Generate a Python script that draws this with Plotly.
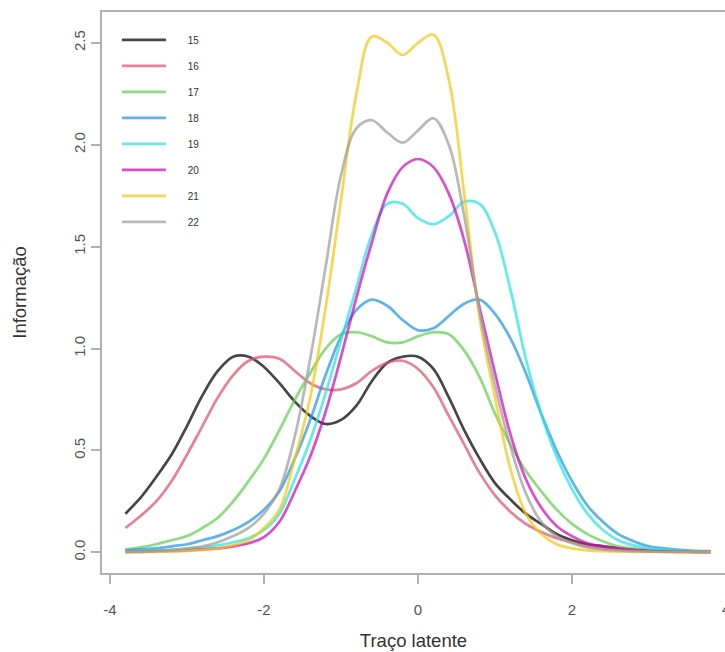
import plotly.graph_objects as go

theta = [-3.8, -3.6, -3.4, -3.2, -3.0, -2.8, -2.6, -2.4, -2.2, -2.0,
         -1.8, -1.6, -1.4, -1.2, -1.0, -0.8, -0.6, -0.4, -0.2, 0.0,
         0.2, 0.4, 0.6, 0.8, 1.0, 1.2, 1.4, 1.6, 1.8, 2.0,
         2.2, 2.4, 2.6, 2.8, 3.0, 3.2, 3.4, 3.6, 3.8]

item15 = [0.19, 0.27, 0.37, 0.48, 0.62, 0.77, 0.89, 0.96, 0.96, 0.91,
          0.83, 0.74, 0.67, 0.63, 0.65, 0.72, 0.84, 0.93, 0.96, 0.96,
          0.90, 0.76, 0.60, 0.46, 0.34, 0.26, 0.19, 0.14, 0.09, 0.06,
          0.04, 0.03, 0.02, 0.012, 0.008, 0.006, 0.004, 0.003, 0.003]
item16 = [0.12, 0.18, 0.25, 0.35, 0.48, 0.62, 0.76, 0.87, 0.94, 0.96,
          0.95, 0.89, 0.83, 0.80, 0.80, 0.83, 0.89, 0.93, 0.94, 0.90,
          0.81, 0.67, 0.53, 0.39, 0.28, 0.20, 0.14, 0.10, 0.07, 0.05,
          0.03, 0.02, 0.015, 0.01, 0.007, 0.005, 0.004, 0.003, 0.003]
item17 = [0.015, 0.025, 0.04, 0.06, 0.08, 0.12, 0.17, 0.25, 0.35, 0.46,
          0.60, 0.75, 0.88, 1.00, 1.07, 1.08, 1.06, 1.03, 1.03, 1.06,
          1.08, 1.07, 0.99, 0.86, 0.68, 0.53, 0.40, 0.30, 0.21, 0.14,
          0.09, 0.055, 0.03, 0.02, 0.012, 0.008, 0.005, 0.004, 0.003]
item18 = [0.01, 0.015, 0.02, 0.03, 0.04, 0.06, 0.08, 0.11, 0.15, 0.21,
          0.30, 0.46, 0.65, 0.87, 1.06, 1.19, 1.24, 1.21, 1.14, 1.09,
          1.10, 1.16, 1.22, 1.24, 1.17, 1.05, 0.88, 0.68, 0.50, 0.35,
          0.23, 0.15, 0.09, 0.055, 0.03, 0.02, 0.012, 0.008, 0.006]
item19 = [0.003, 0.005, 0.008, 0.012, 0.018, 0.025, 0.035, 0.05, 0.07, 0.11,
          0.19, 0.36, 0.55, 0.78, 1.04, 1.30, 1.56, 1.71, 1.71, 1.64,
          1.61, 1.65, 1.72, 1.71, 1.57, 1.29, 0.95, 0.68, 0.47, 0.31,
          0.19, 0.11, 0.06, 0.035, 0.02, 0.012, 0.008, 0.005, 0.004]
item20 = [0.002, 0.003, 0.005, 0.007, 0.01, 0.015, 0.02, 0.03, 0.045, 0.075,
          0.15, 0.30, 0.47, 0.69, 0.96, 1.25, 1.52, 1.76, 1.89, 1.93,
          1.89, 1.76, 1.53, 1.20, 0.88, 0.58, 0.36, 0.22, 0.13, 0.08,
          0.045, 0.03, 0.02, 0.012, 0.008, 0.005, 0.003, 0.002, 0.002]
item21 = [0.001, 0.002, 0.003, 0.005, 0.008, 0.012, 0.02, 0.035, 0.06, 0.12,
          0.21, 0.46, 0.76, 1.20, 1.73, 2.25, 2.53, 2.50, 2.44, 2.50,
          2.54, 2.32, 1.76, 1.15, 0.76, 0.41, 0.19, 0.09, 0.04, 0.02,
          0.01, 0.006, 0.004, 0.003, 0.002, 0.002, 0.001, 0.001, 0.001]
item22 = [0.003, 0.005, 0.008, 0.012, 0.02, 0.03, 0.05, 0.08, 0.12, 0.19,
          0.31, 0.57, 0.95, 1.40, 1.85, 2.08, 2.12, 2.06, 2.01, 2.07,
          2.13, 2.00, 1.65, 1.18, 0.82, 0.52, 0.29, 0.15, 0.08, 0.045,
          0.025, 0.015, 0.01, 0.006, 0.004, 0.003, 0.002, 0.002, 0.002]

names = ["15", "16", "17", "18", "19", "20", "21", "22"]
series = [item15, item16, item17, item18, item19, item20, item21, item22]
colors = ["#000000", "#DF536B", "#61D04F", "#2297E6", "#28E2E5", "#CD0BBC", "#F5C710", "#9E9E9E"]

x_ticks = [-4, -2, 0, 2]
y_ticks = [0.0, 0.5, 1.0, 1.5, 2.0, 2.5]
y_ticklabels = ["0.0", "0.5", "1.0", "1.5", "2.0", "2.5"]

fig = go.Figure()
for nm, ys, col in zip(names, series, colors):
    fig.add_trace(go.Scatter(
        x=theta, y=ys, mode="lines", name="\u2007\u2007\u2007" + nm, legendgroup=nm,
        line=dict(color=col, width=2.7, shape="spline", smoothing=1.0),
        opacity=0.72,
    ))

font_family = "Liberation Sans, Arial, sans-serif"
axis_col = "#b0b0b0"
tick_font = dict(family=font_family, size=15, color="#555555")

fig.update_layout(
    width=725, height=652,
    margin=dict(l=102, r=0, t=12, b=79),
    plot_bgcolor="white", paper_bgcolor="white",
    showlegend=True,
    legend=dict(
        x=0.024, y=0.976, xanchor="left", yanchor="top",
        bgcolor="rgba(0,0,0,0)", borderwidth=0,
        font=dict(family=font_family, size=10, color="#333333"),
        tracegroupgap=7, itemwidth=44,
    ),
    xaxis=dict(
        range=[-4.104, 3.987], tickvals=x_ticks, ticktext=[str(v) for v in x_ticks],
        showgrid=False, zeroline=False, showline=True, linecolor=axis_col, linewidth=1.5,
        mirror=True, ticks="outside", ticklen=9, tickcolor=axis_col, tickwidth=1.5,
        tickfont=tick_font, ticklabelstandoff=13,
        title=dict(text="Traço latente", font=dict(family=font_family, size=18.5, color="#333333"), standoff=17),
    ),
    yaxis=dict(
        range=[-0.101, 2.651], tickvals=y_ticks, ticktext=y_ticklabels,
        showgrid=False, zeroline=False, showline=True, linecolor=axis_col, linewidth=1.5,
        ticks="outside", ticklen=9, tickcolor=axis_col, tickwidth=1.5,
        tickfont=tick_font, tickangle=-90,
        title=dict(text="Informação", font=dict(family=font_family, size=18.5, color="#333333"), standoff=40),
    ),
    annotations=[dict(
        text="4", xref="paper", yref="paper", x=1.0016, y=0, xanchor="center", yanchor="top",
        yshift=-25, showarrow=False, font=tick_font,
    )],
)

fig.write_html("out.html")
